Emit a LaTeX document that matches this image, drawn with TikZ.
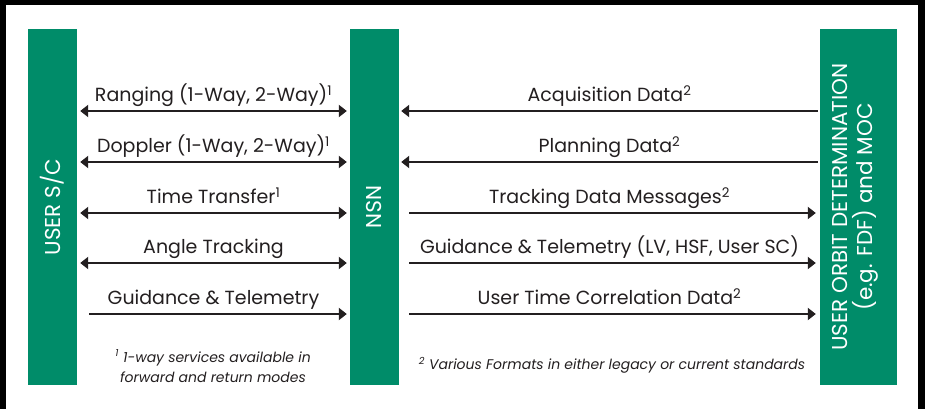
\documentclass[tikz,border=0pt]{standalone}
\usepackage{fontspec}
\setmainfont{Poppins}
\usetikzlibrary{arrows.meta}
\definecolor{nasagreen}{RGB}{0,140,105}
\definecolor{ink}{RGB}{35,31,32}

\begin{document}
\begin{tikzpicture}[x=1pt, y=-1pt, font=\fontsize{19}{22}\selectfont,
	bar/.style={fill=nasagreen, inner sep=0, minimum height=356pt},
	bartxt/.style={text=white, font=\fontsize{21.5}{25}\selectfont},
	lbl/.style={text=ink, inner sep=0, text depth=.25em, above=6pt},
	link/.style={draw=ink, line width=2.4pt, -{Triangle[length=8pt,width=12pt]}},
	twoway/.style={link, {Triangle[length=8pt,width=12pt]}-{Triangle[length=8pt,width=12pt]}},
	note/.style={text=ink, font=\fontsize{14}{20}\selectfont\itshape, align=center}]
	\fill[black] (0,0) rectangle (925,409);
	\fill[white] (6,5) rectangle (918,409);
	% the three columns
	\node[bar, minimum width=49pt] (usc) at (52.5,207) {};
	\node[bar, minimum width=49pt] (nsn) at (374.5,207) {};
	\node[bar, minimum width=77pt] (od) at (858.5,207) {};
	\node[bartxt, rotate=90] (usctxt) at (usc) {USER S/C};
	\node[bartxt, rotate=-90] (nsntxt) at (nsn) {NSN};
	\node[bartxt, rotate=90, align=center] (odtxt) at ([xshift=-3pt]od.center) {USER ORBIT DETERMINATION\\(e.g. FDF) and MOC};
	% rows
	\coordinate (r1) at (0,111);
	\coordinate (r2) at (0,162);
	\coordinate (r3) at (0,213);
	\coordinate (r4) at (0,263);
	\coordinate (r5) at (0,314);
	\draw[twoway, shorten <=3pt, shorten >=3pt] (usc.east |- r1) -- node[lbl] (rng) {Ranging (1-Way, 2-Way)\textsuperscript{1}} (nsn.west |- r1);
	\draw[twoway, shorten <=3pt, shorten >=3pt] (usc.east |- r2) -- node[lbl] (dop) {Doppler (1-Way, 2-Way)\textsuperscript{1}} (nsn.west |- r2);
	\draw[twoway, shorten <=3pt, shorten >=3pt] (usc.east |- r3) -- node[lbl] (tt) {Time Transfer\textsuperscript{1}} (nsn.west |- r3);
	\draw[twoway, shorten <=3pt, shorten >=3pt] (usc.east |- r4) -- node[lbl] (at) {Angle Tracking} (nsn.west |- r4);
	\draw[link, shorten <=12pt, shorten >=3pt] (usc.east |- r5) -- node[lbl] (gt) {Guidance \& Telemetry} (nsn.west |- r5);
	\draw[link, shorten <=2pt, shorten >=2pt] (od.west |- r1) -- node[lbl] (acq) {Acquisition Data\textsuperscript{2}} (nsn.east |- r1);
	\draw[link, shorten <=2pt, shorten >=2pt] (od.west |- r2) -- node[lbl] (pln) {Planning Data\textsuperscript{2}} (nsn.east |- r2);
	\draw[link, shorten <=10pt, shorten >=4pt] (nsn.east |- r3) -- node[lbl] (tdm) {Tracking Data Messages\textsuperscript{2}} (od.west |- r3);
	\draw[link, shorten <=10pt, shorten >=4pt] (nsn.east |- r4) -- node[lbl] (gtr) {Guidance \& Telemetry (LV, HSF, User SC)} (od.west |- r4);
	\draw[link, shorten <=10pt, shorten >=4pt] (nsn.east |- r5) -- node[lbl] (utc) {User Time Correlation Data\textsuperscript{2}} (od.west |- r5);
	% footnotes
	\node[note] (note1) at (213,366) {\textsuperscript{1} 1-way services available in\\forward and return modes};
	\node[note] (note2) at (612,365) {\textsuperscript{2} Various Formats in either legacy or current standards};
\end{tikzpicture}
\end{document}
